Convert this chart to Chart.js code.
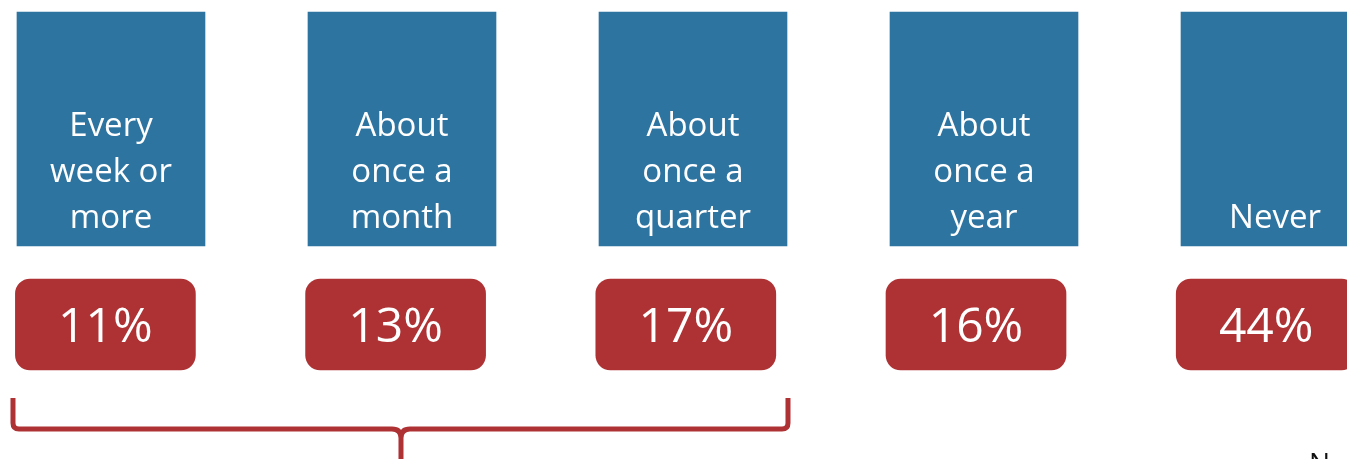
<!DOCTYPE html>
<html>
<head>
<meta charset="utf-8">
<script src="https://cdn.jsdelivr.net/npm/chart.js@4.4.1/dist/chart.umd.min.js"></script>
<style>
  html, body { margin: 0; padding: 0; background: #ffffff; overflow: hidden; }
  #wrap { width: 1347px; height: 459px; position: relative; }
</style>
</head>
<body>
<div id="wrap"><canvas id="chart" width="1347" height="459"></canvas></div>
<script>
// Answer categories, one entry per printed line
const categories = [
  ['Every', 'week or', 'more'],
  ['About', 'once a', 'month'],
  ['About', 'once a', 'quarter'],
  ['About', 'once a', 'year'],
  ['Never']
];
// Share of respondents giving each answer (%)
const shares = [11, 13, 17, 16, 44];
// First and last category held together by the brace
const bracedGroup = [0, 2];
// Sample-size note in the corner
const footnote = 'N';

// ---- layout & style ----
const BLUE = '#2E74A1';
const RED = '#AE3234';
const FONT = '"Open Sans", "Noto Sans", sans-serif';
const LABEL_BAND = [12, 246];   // vertical span of the category boxes
const VALUE_BAND = [279, 370];  // vertical span of the value boxes
const BRACE = { top: 398, bar: 429, bottom: 470 };

const annotate = {
  id: 'annotate',
  afterDatasetsDraw(chart) {
    const ctx = chart.ctx;
    const yScale = chart.scales.y;
    const boxes = chart.getDatasetMeta(0).data;
    const tags = chart.getDatasetMeta(1).data;
    ctx.save();

    // category text, anchored to the bottom of each box
    ctx.fillStyle = '#ffffff';
    ctx.textAlign = 'center';
    ctx.textBaseline = 'alphabetic';
    ctx.font = '33px ' + FONT;
    boxes.forEach((bar, i) => {
      const p = bar.getProps(['x', 'y', 'base'], true);
      const bottom = Math.max(p.y, p.base);
      const lines = categories[i];
      lines.forEach((line, k) => {
        ctx.fillText(line, p.x, bottom - 18 - (lines.length - 1 - k) * 46);
      });
    });

    // percentage in each value box
    const pctSize = 48;
    ctx.font = pctSize + 'px ' + FONT;
    tags.forEach((bar, i) => {
      const p = bar.getProps(['x', 'y', 'base'], true);
      const mid = (p.y + p.base) / 2;
      ctx.fillText(shares[i] + '%', p.x, mid + pctSize * 0.714 / 2);
    });

    // brace under the grouped categories
    const first = boxes[bracedGroup[0]].getProps(['x', 'width'], true);
    const last = boxes[bracedGroup[1]].getProps(['x', 'width'], true);
    const midBar = boxes[Math.round((bracedGroup[0] + bracedGroup[1]) / 2)].getProps(['x'], true);
    const left = first.x - first.width / 2 - 4;
    const right = last.x + last.width / 2 + 1;
    const mid = midBar.x - 1;
    const top = yScale.getPixelForValue(BRACE.top);
    const barY = yScale.getPixelForValue(BRACE.bar);
    const bottom = yScale.getPixelForValue(BRACE.bottom);
    const r = 6, r2 = 9;
    ctx.strokeStyle = RED;
    ctx.lineWidth = 5;
    ctx.lineCap = 'butt';
    ctx.lineJoin = 'round';
    ctx.beginPath();
    ctx.moveTo(left, top);
    ctx.lineTo(left, barY - r);
    ctx.quadraticCurveTo(left, barY, left + r, barY);
    ctx.lineTo(mid - r2, barY);
    ctx.quadraticCurveTo(mid, barY, mid, barY + r2);
    ctx.lineTo(mid, bottom);
    ctx.moveTo(right, top);
    ctx.lineTo(right, barY - r);
    ctx.quadraticCurveTo(right, barY, right - r, barY);
    ctx.lineTo(mid + r2, barY);
    ctx.quadraticCurveTo(mid, barY, mid, barY + r2);
    ctx.stroke();

    // corner note
    ctx.fillStyle = '#111111';
    ctx.textAlign = 'left';
    ctx.font = '28px ' + FONT;
    ctx.fillText(footnote, 1309, 473);

    ctx.restore();
  }
};

new Chart(document.getElementById('chart'), {
  type: 'bar',
  data: {
    labels: categories,
    datasets: [
      {
        label: 'Category',
        data: categories.map((_, i) => ({ x: i, y: LABEL_BAND })),
        xAxisID: 'x',
        backgroundColor: BLUE,
        barThickness: 188,
        borderSkipped: false,
        borderWidth: 0,
        grouped: false
      },
      {
        label: 'Share',
        data: shares.map((v, i) => ({ x: i, y: VALUE_BAND, share: v })),
        xAxisID: 'x2',
        backgroundColor: RED,
        barThickness: 180,
        borderRadius: 15,
        borderSkipped: false,
        borderWidth: 0,
        grouped: false
      }
    ]
  },
  options: {
    responsive: false,
    animation: false,
    devicePixelRatio: 1,
    layout: { padding: 0 },
    plugins: {
      legend: { display: false },
      tooltip: { enabled: false }
    },
    scales: {
      x: { type: 'linear', position: 'bottom', offset: false, min: -0.3814, max: 4.2474, display: false },
      x2: { type: 'linear', axis: 'x', position: 'bottom', offset: false, min: -0.3632, max: 4.2784, display: false },
      y: { type: 'linear', min: 0, max: 459, reverse: true, display: false }
    }
  },
  plugins: [annotate]
});
</script>
</body>
</html>
